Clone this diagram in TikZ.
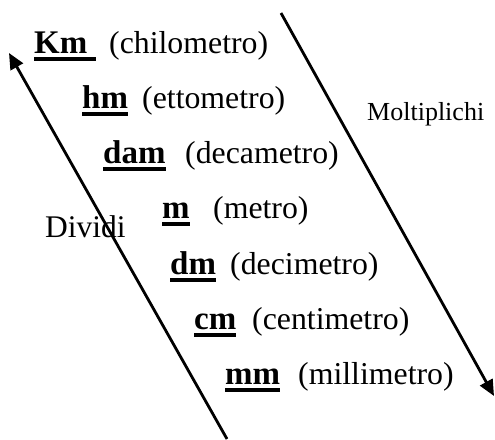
\documentclass[tikz,border=0pt]{standalone}
\usepackage{fontspec}
\setmainfont{Liberation Serif}
\usetikzlibrary{arrows.meta}
\newcommand{\ulbold}[1]{\setbox0=\hbox{\bfseries #1}\rlap{\rule[-7.5pt]{\wd0}{3.5pt}}\box0}
\tikzset{
  unit/.style={anchor=base west,inner sep=0pt,font=\fontsize{33}{38}\selectfont},
  desc/.style={anchor=base west,inner sep=0pt,font=\fontsize{31.8}{36}\selectfont},
  side/.style={anchor=base west,inner sep=0pt},
  arr/.style={line width=2.8pt,-{Triangle[length=16pt,width=14pt]}}
}
\begin{document}
\begin{tikzpicture}[x=1pt,y=-1pt]
\useasboundingbox (0,0) rectangle (495,439);
% units
\node[unit] (km) at (34,53) {\ulbold{Km\ }};
\node[desc] (kmd) at (109,53) {(chilometro)};
\node[unit] (hm) at (82,108) {\ulbold{hm}};
\node[desc] (hmd) at (142,108) {(ettometro)};
\node[unit] (dam) at (103,163) {\ulbold{dam}};
\node[desc] (damd) at (185,163) {(decametro)};
\node[unit] (m) at (162,218) {\ulbold{m}};
\node[desc] (md) at (213,218) {(metro)};
\node[unit] (dm) at (170,274) {\ulbold{dm}};
\node[desc] (dmd) at (230,274) {(decimetro)};
\node[unit] (cm) at (194,329) {\ulbold{cm}};
\node[desc] (cmd) at (252,329) {(centimetro)};
\node[unit] (mm) at (225,384) {\ulbold{mm}};
\node[desc] (mmd) at (298,384) {(millimetro)};
% side labels
\node[side,font=\fontsize{31.5}{36}\selectfont] (div) at (45,237) {Dividi};
\node[side,font=\fontsize{26}{30}\selectfont] (mol) at (367,120) {Moltiplichi};
% arrows
\coordinate (dstart) at (227,439);
\coordinate (dend) at (9,53);
\coordinate (mstart) at (281,13);
\coordinate (mend) at (494,396);
\draw[arr] (dstart) -- (dend);
\draw[arr] (mstart) -- (mend);
\end{tikzpicture}
\end{document}
